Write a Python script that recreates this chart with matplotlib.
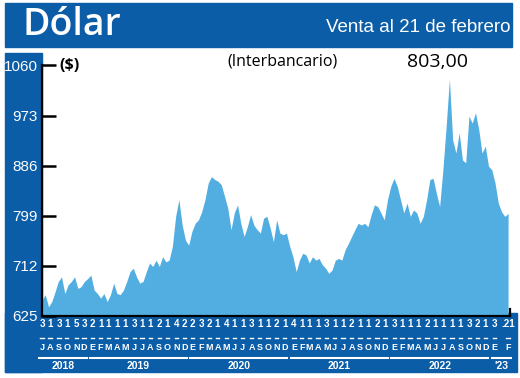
import matplotlib
matplotlib.use("Agg")
import matplotlib.pyplot as plt
import pandas as pd
from matplotlib.patches import Rectangle
from matplotlib.transforms import blended_transform_factory

# Datos: dólar observado (interbancario), venta
venta = [
    653, 662, 641, 650, 667, 685, 693, 664, 679, 685,
    693, 673, 676, 685, 690, 696, 670, 664, 656, 664,
    650, 662, 682, 664, 662, 670, 685, 702, 708, 693,
    682, 685, 702, 717, 711, 722, 711, 728, 719, 722,
    746, 798, 827, 783, 757, 748, 772, 786, 792, 806,
    827, 856, 867, 862, 859, 853, 833, 812, 775, 804,
    818, 786, 763, 780, 801, 783, 775, 769, 795, 798,
    778, 754,
    792, 769, 766, 769, 746, 728, 702, 722, 734, 731,
    717, 728, 722, 725, 714, 708, 699, 705, 722, 725,
    722, 740, 751, 763, 775, 786, 783, 786, 780, 801,
    818, 815, 804, 792, 827, 850, 864, 850, 827, 804,
    821, 798, 809, 804, 786, 798, 827, 862, 864, 838,
    815, 879, 954, 1036, 931, 908, 943, 896, 891, 972,
    960, 978, 949, 908, 920, 885, 879, 856, 821, 806,
    798, 803,
]
fechas = pd.date_range("2018-07-03", "2023-02-21", periods=len(venta))

# primer día hábil de cada mes (etiquetas del eje)
anios_meses = [(2018, m) for m in range(7, 13)] + \
    [(a, m) for a in (2019, 2020, 2021, 2022) for m in range(1, 13)] + [(2023, 1), (2023, 2)]
dias = [3, 1, 3, 1, 5, 3,
        2, 1, 1, 1, 1, 3, 1, 1, 2, 1, 4, 2,
        2, 3, 2, 1, 4, 1, 1, 3, 1, 1, 2, 1,
        4, 1, 1, 1, 3, 1, 1, 2, 1, 1, 2, 1,
        3, 1, 1, 1, 2, 1, 1, 1, 1, 3, 2, 1,
        3, 21]
letras = ["E", "F", "M", "A", "M", "J", "J", "A", "S", "O", "N", "D"]
anios = ["2018", "2019", "2020", "2021", "2022", "'23"]
yticks = [625, 712, 799, 886, 973, 1060]

azul = "#0b5da7"
celeste = "#52aee0"
fuente = "Liberation Sans"

W, H = 520, 378
fig = plt.figure(figsize=(W / 100, H / 100), dpi=100)
fig.patch.set_facecolor("white")


def caja(x0, y0, x1, y1):
    fig.patches.append(Rectangle((x0 / W, 1 - y1 / H), (x1 - x0) / W, (y1 - y0) / H,
                                 transform=fig.transFigure, color=azul, zorder=-1))


caja(5, 3, 512, 47)      # cabecera
caja(5, 53, 42, 372)     # franja izquierda
caja(5, 313, 517, 372)   # franja inferior

fig.text(22 / W, 1 - 25 / H, "Dólar", color="white", fontsize=27, family="Open Sans",
         weight="semibold", va="center", ha="left")
fig.text(510 / W, 1 - 28 / H, "Venta al 21 de febrero", color="white", fontsize=13.5,
         family=fuente, va="center", ha="right")

ax = fig.add_axes([42 / W, 1 - 316 / H, (510 - 42) / W, (316 - 65.5) / H])
ax.patch.set_alpha(0)
ax.fill_between(fechas, venta, 625, color=celeste, lw=0)
ax.set_ylim(625, 1060)
ax.set_xlim(pd.Timestamp("2018-07-03"), pd.Timestamp("2023-02-28"))
ax.spines["top"].set_visible(False)
for s in ["left", "bottom", "right"]:
    ax.spines[s].set_linewidth(1.6)
ax.spines["right"].set_bounds(625, 637)
ax.set_xticks([])
ax.set_yticks(yticks)
ax.set_yticklabels([str(v) for v in yticks], color="white", fontsize=11, family=fuente)
ax.tick_params(axis="y", direction="in", length=10, width=1.8, pad=3)

ax.text(0.038, 1.0, "($)", transform=ax.transAxes, fontsize=11.5, weight="bold",
        family="Open Sans", va="center")
fig.text(282 / W, 1 - 62 / H, "(Interbancario)", fontsize=11.5, family="Open Sans",
         ha="center", va="center")
fig.text(437 / W, 1 - 62 / H, "803,00", fontsize=14, family="Open Sans",
         ha="center", va="center")

tr = blended_transform_factory(ax.transData, fig.transFigure)
pos = [pd.Timestamp(a, m, d) for (a, m), d in zip(anios_meses, dias)]
for i, (p, (a, m), d) in enumerate(zip(pos, anios_meses, dias)):
    etiqueta = ".21" if i == len(pos) - 1 else str(d)
    ax.text(p, 1 - 324 / H, etiqueta, transform=tr, color="white", fontsize=7,
            weight="bold", family=fuente, ha="center", va="center")
    ax.plot([p - pd.Timedelta(days=6), p + pd.Timedelta(days=6)], [1 - 338 / H] * 2,
            transform=tr, color="white", lw=1, clip_on=False)
    ax.text(p, 1 - 348 / H, letras[m - 1], transform=tr, color="white", fontsize=6.5,
            weight="bold", family=fuente, ha="center", va="center")

for anio in anios:
    full = 2000 + int(anio[-2:])
    ps = [p for p, (a, m) in zip(pos, anios_meses) if a == full]
    x0 = ps[0] - pd.Timedelta(days=10)
    x1 = ps[-1] + pd.Timedelta(days=10)
    ax.plot([x0, x1], [1 - 358 / H] * 2, transform=tr, color="white", lw=1.5, clip_on=False)
    ax.text(x0 + (x1 - x0) / 2, 1 - 366 / H, anio, transform=tr, color="white",
            fontsize=7.5, weight="bold", family=fuente, ha="center", va="center")

fig.savefig("out.png", dpi=100)
